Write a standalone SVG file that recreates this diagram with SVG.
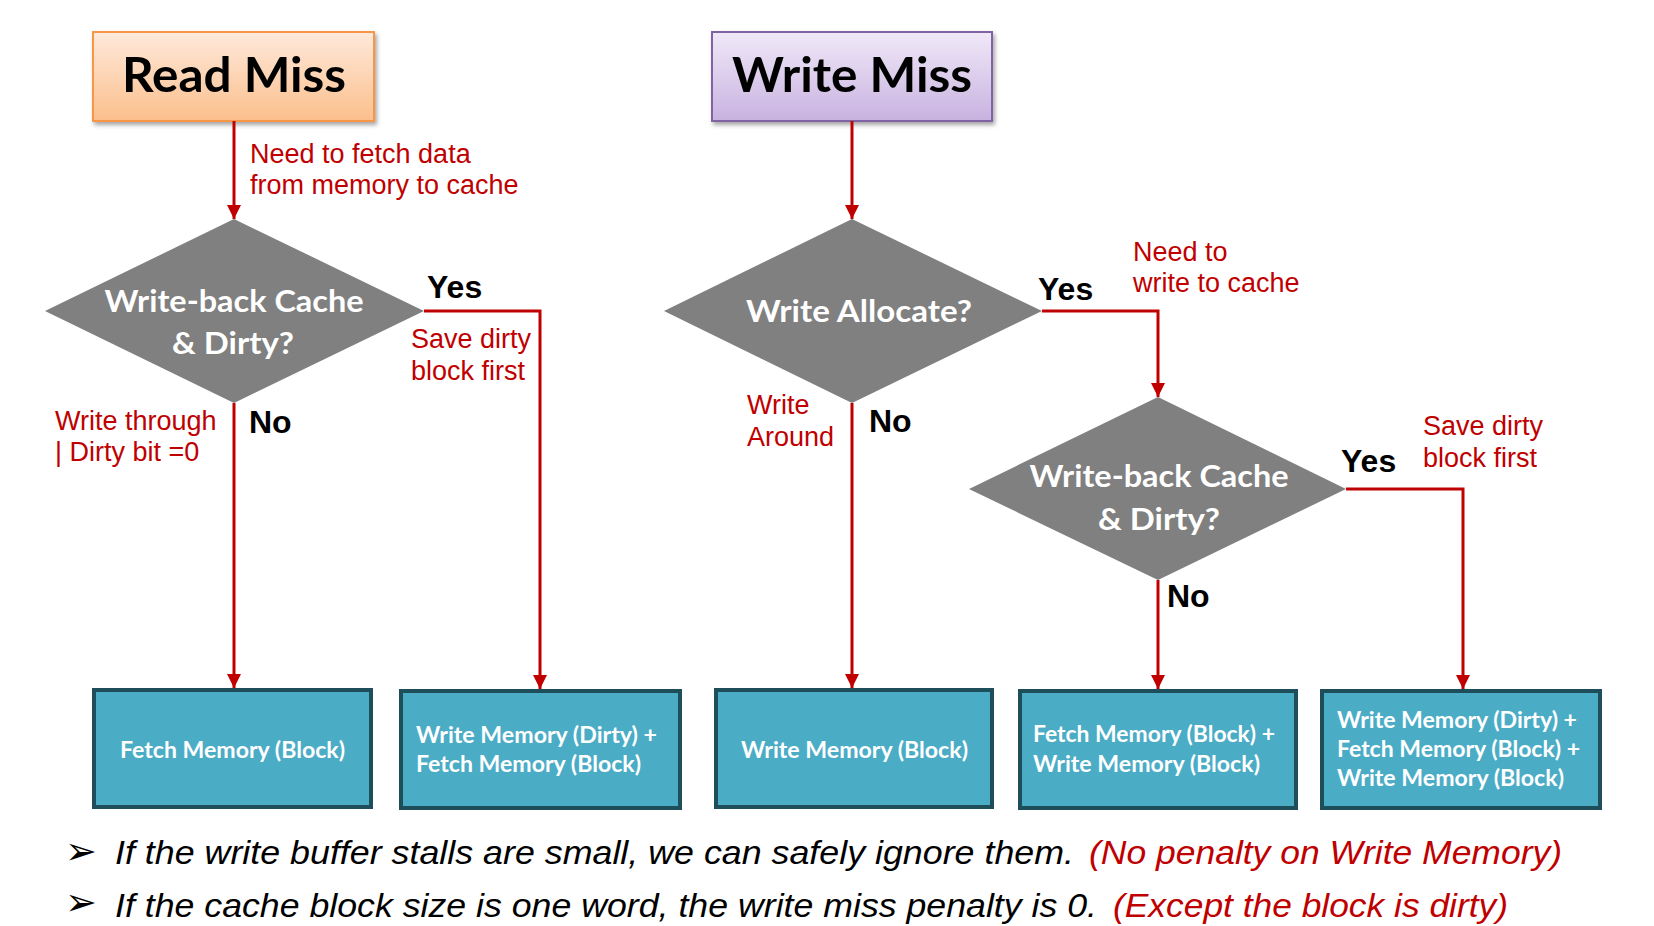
<svg xmlns="http://www.w3.org/2000/svg" width="1654" height="926" viewBox="0 0 1654 926">
<defs>
<linearGradient id="gOrange" x1="0" y1="0" x2="0" y2="1"><stop offset="0" stop-color="#fee9db"/><stop offset="1" stop-color="#fbbf8c"/></linearGradient>
<linearGradient id="gPurple" x1="0" y1="0" x2="0" y2="1"><stop offset="0" stop-color="#f0e9f8"/><stop offset="1" stop-color="#c8b2e0"/></linearGradient>
<filter id="shadow" x="-10%" y="-10%" width="125%" height="135%"><feDropShadow dx="2" dy="3" stdDeviation="2" flood-color="#000" flood-opacity="0.35"/></filter>
<marker id="arr" markerUnits="userSpaceOnUse" markerWidth="14" markerHeight="16" viewBox="0 0 14 16" refX="14" refY="7" orient="auto"><path d="M0,0 L14,7 L0,14 Z" fill="#c00000"/></marker>
</defs>
<style>
.title{font-family:Lato,"Liberation Sans",sans-serif;font-weight:bold;font-size:47px;fill:#000;text-anchor:middle}
.dia{fill:#808080}
.dtext{font-family:Lato,"Liberation Sans",sans-serif;font-weight:bold;font-size:31px;fill:#fff;text-anchor:middle}
.box{fill:#4bacc6;stroke:#1f4e5b;stroke-width:4}
.btext{font-family:Lato,"Liberation Sans",sans-serif;font-weight:bold;font-size:22px;fill:#fff}
.lbl{font-family:"Liberation Sans",Arial,sans-serif;font-size:27px;fill:#c00000}
.yn{font-family:"Liberation Sans",Arial,sans-serif;font-weight:bold;font-size:32px;fill:#000}
.conn{fill:none;stroke:#c00000;stroke-width:3}
.bul{font-family:"Liberation Sans",Arial,sans-serif;font-style:italic;font-size:34px;fill:#000}
.bulr{font-family:"Liberation Sans",Arial,sans-serif;font-style:italic;font-size:34px;fill:#c00000}
.sym{font-family:"DejaVu Sans",sans-serif;font-size:38px;fill:#000}
</style>
<rect width="1654" height="926" fill="#fff"/>

<g id="read-miss">
<rect x="93" y="32" width="281" height="89" fill="url(#gOrange)" stroke="#f79646" stroke-width="2" filter="url(#shadow)"/>
<text class="title" x="234" y="92" textLength="224" lengthAdjust="spacingAndGlyphs">Read Miss</text>
</g>
<g id="write-miss">
<rect x="712" y="32" width="280" height="89" fill="url(#gPurple)" stroke="#8064a2" stroke-width="2" filter="url(#shadow)"/>
<text class="title" x="852" y="92" textLength="240" lengthAdjust="spacingAndGlyphs">Write Miss</text>
</g>

<g id="d1">
<polygon class="dia" points="234,219 424,311 234,403 45,311"/>
<text class="dtext" x="234" y="312" textLength="259" lengthAdjust="spacingAndGlyphs">Write-back Cache</text>
<text class="dtext" x="233" y="354" textLength="122" lengthAdjust="spacingAndGlyphs">&amp; Dirty?</text>
</g>
<g id="d2">
<polygon class="dia" points="852,219 1042,311 852,403 664,311"/>
<text class="dtext" x="859" y="322" textLength="226" lengthAdjust="spacingAndGlyphs">Write Allocate?</text>
</g>
<g id="d3">
<polygon class="dia" points="1158,397 1346,489 1158,580 969,489"/>
<text class="dtext" x="1159" y="487" textLength="259" lengthAdjust="spacingAndGlyphs">Write-back Cache</text>
<text class="dtext" x="1159" y="530" textLength="122" lengthAdjust="spacingAndGlyphs">&amp; Dirty?</text>
</g>

<g id="b1">
<rect class="box" x="94" y="690" width="277" height="117"/>
<text class="btext" x="120" y="758" textLength="225" lengthAdjust="spacingAndGlyphs">Fetch Memory (Block)</text>
</g>
<g id="b2">
<rect class="box" x="401" y="691" width="279" height="117"/>
<text class="btext" x="416" y="743" textLength="241" lengthAdjust="spacingAndGlyphs">Write Memory (Dirty) +</text>
<text class="btext" x="416" y="772" textLength="225" lengthAdjust="spacingAndGlyphs">Fetch Memory (Block)</text>
</g>
<g id="b3">
<rect class="box" x="716" y="690" width="276" height="117"/>
<text class="btext" x="741" y="758" textLength="227" lengthAdjust="spacingAndGlyphs">Write Memory (Block)</text>
</g>
<g id="b4">
<rect class="box" x="1020" y="691" width="276" height="117"/>
<text class="btext" x="1033" y="742" textLength="242" lengthAdjust="spacingAndGlyphs">Fetch Memory (Block) +</text>
<text class="btext" x="1033" y="772" textLength="227" lengthAdjust="spacingAndGlyphs">Write Memory (Block)</text>
</g>
<g id="b5">
<rect class="box" x="1322" y="691" width="278" height="117"/>
<text class="btext" x="1337" y="728" textLength="240" lengthAdjust="spacingAndGlyphs">Write Memory (Dirty) +</text>
<text class="btext" x="1337" y="757" textLength="243" lengthAdjust="spacingAndGlyphs">Fetch Memory (Block) +</text>
<text class="btext" x="1337" y="786" textLength="227" lengthAdjust="spacingAndGlyphs">Write Memory (Block)</text>
</g>

<g id="connectors">
<path class="conn" d="M234,121 V219" marker-end="url(#arr)"/>
<path class="conn" d="M234,403 V688" marker-end="url(#arr)"/>
<path class="conn" d="M424,311 H540 V689" marker-end="url(#arr)"/>
<path class="conn" d="M852,121 V219" marker-end="url(#arr)"/>
<path class="conn" d="M852,403 V688" marker-end="url(#arr)"/>
<path class="conn" d="M1042,311 H1158 V397" marker-end="url(#arr)"/>
<path class="conn" d="M1158,580 V689" marker-end="url(#arr)"/>
<path class="conn" d="M1346,489 H1463 V689" marker-end="url(#arr)"/>
</g>

<g id="labels">
<text class="lbl" x="250" y="163">Need to fetch data</text>
<text class="lbl" x="250" y="194">from memory to cache</text>
<text class="lbl" x="411" y="348">Save dirty</text>
<text class="lbl" x="411" y="380">block first</text>
<text class="lbl" x="55" y="430">Write through</text>
<text class="lbl" x="55" y="461">| Dirty bit =0</text>
<text class="lbl" x="1133" y="261">Need to</text>
<text class="lbl" x="1133" y="292">write to cache</text>
<text class="lbl" x="747" y="414">Write</text>
<text class="lbl" x="747" y="446">Around</text>
<text class="lbl" x="1423" y="435">Save dirty</text>
<text class="lbl" x="1423" y="467">block first</text>
<text class="yn" x="427" y="298">Yes</text>
<text class="yn" x="249" y="433">No</text>
<text class="yn" x="1038" y="300">Yes</text>
<text class="yn" x="869" y="432">No</text>
<text class="yn" x="1341" y="472">Yes</text>
<text class="yn" x="1167" y="607">No</text>
</g>

<g id="notes">
<text class="sym" x="65" y="864">➢</text>
<text class="bul" x="115" y="864" textLength="959" lengthAdjust="spacingAndGlyphs">If the write buffer stalls are small, we can safely ignore them.</text>
<text class="bulr" x="1089" y="864" textLength="473" lengthAdjust="spacingAndGlyphs">(No penalty on Write Memory)</text>
<text class="sym" x="65" y="915">➢</text>
<text class="bul" x="115" y="917" textLength="982" lengthAdjust="spacingAndGlyphs">If the cache block size is one word, the write miss penalty is 0.</text>
<text class="bulr" x="1113" y="917" textLength="395" lengthAdjust="spacingAndGlyphs">(Except the block is dirty)</text>
</g>
</svg>
